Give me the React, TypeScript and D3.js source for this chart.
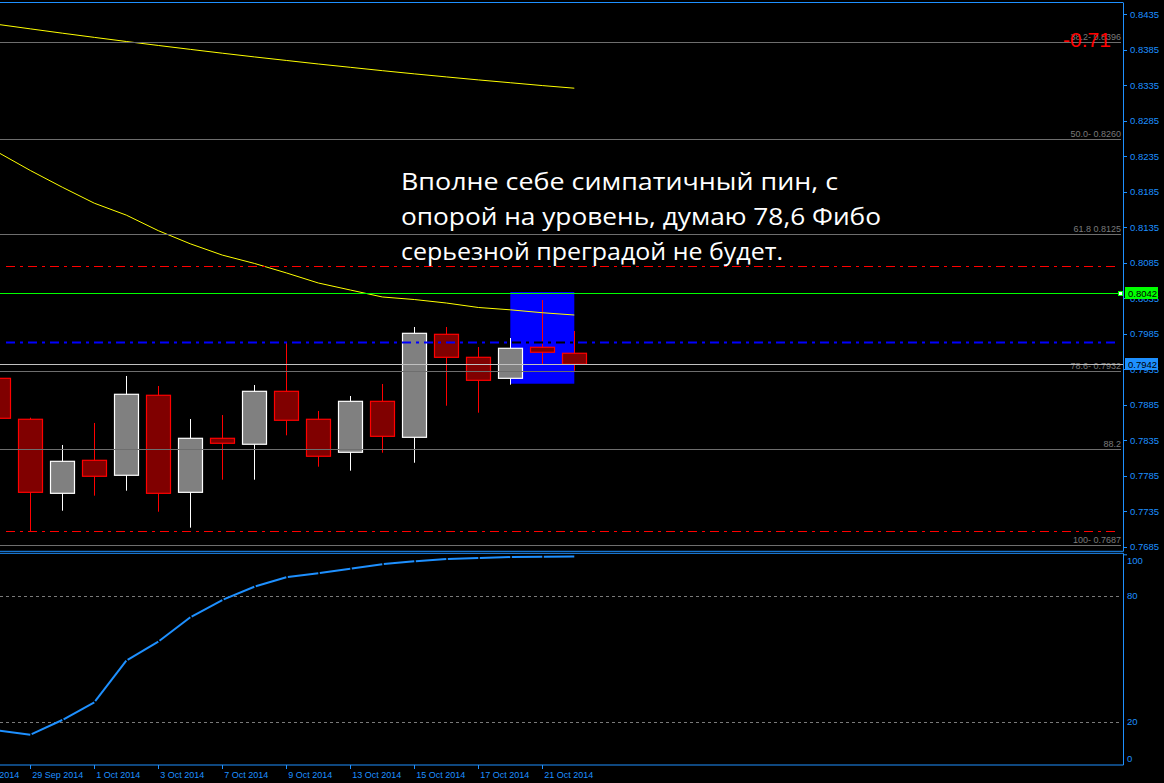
import React, { useEffect } from 'react';
import * as d3 from 'd3';

// ---- data ----
const dates = ["25 Sep 2014","26 Sep 2014","29 Sep 2014","30 Sep 2014","1 Oct 2014","2 Oct 2014","3 Oct 2014","6 Oct 2014","7 Oct 2014","8 Oct 2014","9 Oct 2014","10 Oct 2014","13 Oct 2014","14 Oct 2014","15 Oct 2014","16 Oct 2014","17 Oct 2014","20 Oct 2014","21 Oct 2014","22 Oct 2014"];
// candles start at dates[1]
const openP = [0.79222,0.78645,0.77602,0.78067,0.77856,0.78983,0.77616,0.78377,0.78293,0.79039,0.78645,0.78180,0.78898,0.78391,0.79842,0.79518,0.79222,0.79659,0.79575];
const highP = [0.7926,0.78667,0.78283,0.78593,0.79255,0.79114,0.78649,0.78705,0.79128,0.79730,0.78762,0.78973,0.79142,0.79945,0.79945,0.79663,0.7979,0.80325,0.79889];
const lowP = [0.7860,0.77067,0.77357,0.77569,0.77639,0.77343,0.77118,0.77794,0.77794,0.78419,0.77977,0.77921,0.78174,0.78033,0.78836,0.78738,0.79132,0.79420,0.79329];
const closeP = [0.78659,0.77616,0.78053,0.77842,0.78997,0.77602,0.78377,0.78307,0.79039,0.78631,0.78124,0.78898,0.78405,0.79856,0.79518,0.79194,0.79645,0.79589,0.79420];
const maSlow = [0.84207,0.84145,0.84084,0.84025,0.83967,0.83911,0.83856,0.83802,0.83750,0.83700,0.83650,0.83603,0.83556,0.83511,0.83468,0.83426,0.83386,0.83346,0.83309];
const maFast = [0.82403,0.82150,0.81914,0.81689,0.81521,0.81302,0.81117,0.80958,0.80841,0.80707,0.80565,0.80466,0.80368,0.80332,0.80283,0.80220,0.80187,0.80146,0.80114];
const oscValues = [15.9,13.9,20.9,29.3,49.1,58.1,69.7,77.9,84.2,88.7,90.6,92.8,94.9,96.3,97.4,97.9,98.3,98.5,98.6];

const priceTicks = [0.7685,0.7735,0.7785,0.7835,0.7885,0.7935,0.7985,0.8035,0.8085,0.8135,0.8185,0.8235,0.8285,0.8335,0.8385,0.8435];
const oscTicks = [100, 80, 20, 0];
const oscLevels = [80, 20];
const fibPrices = [0.8396, 0.8260, 0.8125, 0.7932, 0.7822, 0.7687];
const fibLabels = ["38.2- 0.8396", "50.0- 0.8260", "61.8 0.8125", "78.6- 0.7932", "88.2", "100- 0.7687"];
const redLevels = [0.8080, 0.7707];
const blueLevel = 0.7973;
const greenLevel = 0.8042;
const bidPrice = 0.7942;
const boxFrom = 17, boxTo = 19, boxTop = 0.80438, boxBottom = 0.79146;
const profitText = "-0.71";
const note = ["Вполне себе симпатичный пин, с", "опорой на уровень, думаю 78,6 Фибо", "серьезной преградой не будет."];

// ---- layout ----
const W = 1164, H = 783;
const AX = 1123; // right axis x
const mainTop = 2.5, mainBottom = 551.3, oscTop = 553.3, oscBottom = 765;
const AXIS = '#1E90FF';
const FONT = '"Liberation Sans", Arial, sans-serif';

const x = d3.scaleLinear().domain([0, 19]).range([-33.7, 574.3]);
const y = d3.scaleLinear().domain([0.7685, 0.8435]).range([546.7, 14.3]);
const yo = d3.scaleLinear().domain([0, 100]).range([764, 553.5]);
const fmt = d3.format('.4f');

export default function App() {
  useEffect(() => {
    document.body.style.margin = '0';
    document.body.style.background = '#000';
  }, []);

  const candles = openP.map((o, i) => ({ o, h: highP[i], l: lowP[i], c: closeP[i], xi: x(i + 1) }));
  const lineMain = (arr: number[]) => d3.line<number>().x((_, i) => x(i + 1)).y(d => y(d))(arr) || '';
  const oscPts = oscValues.map((v, i) => [x(i + 1), yo(v)] as [number, number]);
  const oscSegs = oscPts.slice(0, -1).map((p, i) => {
    const q = oscPts[i + 1];
    const dx = q[0] - p[0], dy = q[1] - p[1];
    const len = Math.hypot(dx, dy);
    const s = 1.5 / len;
    return [p[0] + dx * s, p[1] + dy * s, q[0], q[1]];
  });
  const tickIdx = dates.map((_, i) => i).filter(i => i % 2 === 0);
  const dash = '9,5,3,5';

  return (
    <svg width={W} height={H} style={{ display: 'block', background: '#000' }} fontFamily={FONT}>
      <defs>
        <clipPath id="mainClip"><rect x={0} y={mainTop} width={AX} height={mainBottom - mainTop} /></clipPath>
        <clipPath id="oscClip"><rect x={0} y={oscTop} width={AX} height={oscBottom - oscTop} /></clipPath>
        <clipPath id="boxClip"><rect x={x(boxFrom)} y={y(boxTop)} width={x(boxTo) - x(boxFrom)} height={y(boxBottom) - y(boxTop)} /></clipPath>
      </defs>
      <rect x={0} y={0} width={W} height={H} fill="#000" />

      <g clipPath="url(#mainClip)">
        {/* blue rectangle */}
        <rect x={x(boxFrom)} y={y(boxTop)} width={x(boxTo) - x(boxFrom)} height={y(boxBottom) - y(boxTop)} fill="#0000FF" />
        {/* candles */}
        {candles.map((d, i) => {
          const bull = d.c >= d.o;
          const col = bull ? '#FFFFFF' : '#FF0000';
          const top = y(Math.max(d.o, d.c)), bot = y(Math.min(d.o, d.c));
          return (
            <g key={i}>
              <line x1={Math.round(d.xi) + 0.5} x2={Math.round(d.xi) + 0.5} y1={y(d.h)} y2={y(d.l)} stroke={col} strokeWidth={1} />
              <rect x={Math.round(d.xi) - 11.5} y={top} width={24} height={Math.max(bot - top, 1)} fill={bull ? '#808080' : '#800000'} stroke={col} strokeWidth={1.2} />
            </g>
          );
        })}
        {/* moving averages */}
        <path d={lineMain(maSlow)} fill="none" stroke="#FFFF00" strokeWidth={1} />
        <path d={lineMain(maFast)} fill="none" stroke="#FFFF00" strokeWidth={1} />
        {/* fibo lines */}
        {fibPrices.map((p, i) => (
          <g key={i}>
            <line x1={0} x2={1121} y1={Math.round(y(p)) + 0.5} y2={Math.round(y(p)) + 0.5} stroke="#6E6E6E" strokeWidth={1} />
            <text x={1121} y={Math.round(y(p)) - 2} textAnchor="end" fontSize={9} fill="#7A7A7A">{fibLabels[i]}</text>
          </g>
        ))}
        {/* horizontal levels */}
        {redLevels.map((p, i) => (
          <line key={i} x1={6} x2={1119} y1={Math.round(y(p)) + 0.5} y2={Math.round(y(p)) + 0.5} stroke="#FF0000" strokeWidth={1} strokeDasharray={dash} />
        ))}
        <line x1={6} x2={1119} y1={Math.round(y(blueLevel)) + 0.5} y2={Math.round(y(blueLevel)) + 0.5} stroke="#0000FF" strokeWidth={2} strokeDasharray={dash} />
        <g clipPath="url(#boxClip)">
          <line x1={6} x2={1119} y1={Math.round(y(blueLevel)) + 0.5} y2={Math.round(y(blueLevel)) + 0.5} stroke="#000" strokeWidth={2} strokeDasharray={dash} />
        </g>
        <line x1={0} x2={1120} y1={Math.round(y(greenLevel)) + 0.5} y2={Math.round(y(greenLevel)) + 0.5} stroke="#00FF00" strokeWidth={1} />
        <rect x={1118.5} y={Math.round(y(greenLevel)) - 1.5} width={4} height={4} fill="#FFFFFF" stroke="#00FF00" strokeWidth={1} />
        <line x1={0} x2={AX} y1={Math.round(y(bidPrice)) + 0.5} y2={Math.round(y(bidPrice)) + 0.5} stroke="#C0C0C0" strokeWidth={1} />
        {/* annotation */}
        {note.map((t, i) => (
          <text key={i} x={401} y={190 + i * 35} fontSize={24} fill="#FFFFFF" fontFamily='"Open Sans", "Noto Sans", sans-serif'
            textLength={[437, 480, 382][i]} lengthAdjust="spacingAndGlyphs">{t}</text>
        ))}
        <text x={1063} y={47} fontSize={21} fill="#FF0000" fontFamily={FONT}>{profitText}</text>
      </g>

      {/* oscillator */}
      <g clipPath="url(#oscClip)">
        {oscLevels.map((v, i) => (
          <line key={i} x1={0} x2={1120} y1={Math.round(yo(v)) + 0.5} y2={Math.round(yo(v)) + 0.5} stroke="#7A7A7A" strokeWidth={1} strokeDasharray="3,3" />
        ))}
        {oscSegs.map((s, i) => (
          <line key={i} x1={s[0]} y1={s[1]} x2={s[2]} y2={s[3]} stroke="#1E90FF" strokeWidth={2} />
        ))}
      </g>

      {/* frames */}
      <line x1={0} x2={AX} y1={mainTop} y2={mainTop} stroke={AXIS} strokeWidth={1} />
      <line x1={0} x2={AX + 0.5} y1={mainBottom} y2={mainBottom} stroke={AXIS} strokeWidth={1} />
      <line x1={0} x2={AX + 0.5} y1={oscTop} y2={oscTop} stroke={AXIS} strokeWidth={1} />
      <line x1={0} x2={AX + 0.5} y1={oscBottom} y2={oscBottom} stroke={AXIS} strokeWidth={1} />
      <line x1={AX + 0.5} x2={AX + 0.5} y1={mainTop} y2={mainBottom} stroke={AXIS} strokeWidth={1} />
      <line x1={AX + 0.5} x2={AX + 0.5} y1={oscTop} y2={oscBottom} stroke={AXIS} strokeWidth={1} />

      {/* price axis */}
      {priceTicks.map((p, i) => (
        <g key={i}>
          <line x1={AX + 1} x2={AX + 4} y1={Math.round(y(p)) + 0.5} y2={Math.round(y(p)) + 0.5} stroke={AXIS} />
          <text x={1130} y={y(p)} dy="0.35em" fontSize={9.5} fill={AXIS}>{fmt(p)}</text>
        </g>
      ))}
      {/* price labels */}
      <rect x={1125} y={Math.round(y(greenLevel)) - 6} width={33} height={12} fill="#00FF00" />
      <text x={1128} y={y(greenLevel)} dy="0.38em" fontSize={9.5} fill="#000">{fmt(greenLevel)}</text>
      <rect x={1125} y={Math.round(y(bidPrice)) - 6} width={33} height={12} fill={AXIS} />
      <text x={1128} y={y(bidPrice)} dy="0.38em" fontSize={9.5} fill="#000">{fmt(bidPrice)}</text>

      {/* oscillator axis */}
      {oscTicks.map((v, i) => {
        const yy = v === 100 ? yo(v) + 7 : v === 0 ? yo(v) - 5.5 : yo(v);
        return <text key={i} x={1127} y={yy} dy="0.35em" fontSize={9.5} fill={AXIS}>{v}</text>;
      })}
      <line x1={AX + 1} x2={AX + 4} y1={oscTop + 1.5} y2={oscTop + 1.5} stroke={AXIS} />

      {/* time axis */}
      {tickIdx.map(i => (
        <g key={i}>
          <line x1={Math.round(x(i)) + 0.5} x2={Math.round(x(i)) + 0.5} y1={oscBottom} y2={oscBottom + 4} stroke={AXIS} />
          <text x={x(i) + 2} y={778} fontSize={9} fill={AXIS}>{dates[i]}</text>
        </g>
      ))}
    </svg>
  );
}
